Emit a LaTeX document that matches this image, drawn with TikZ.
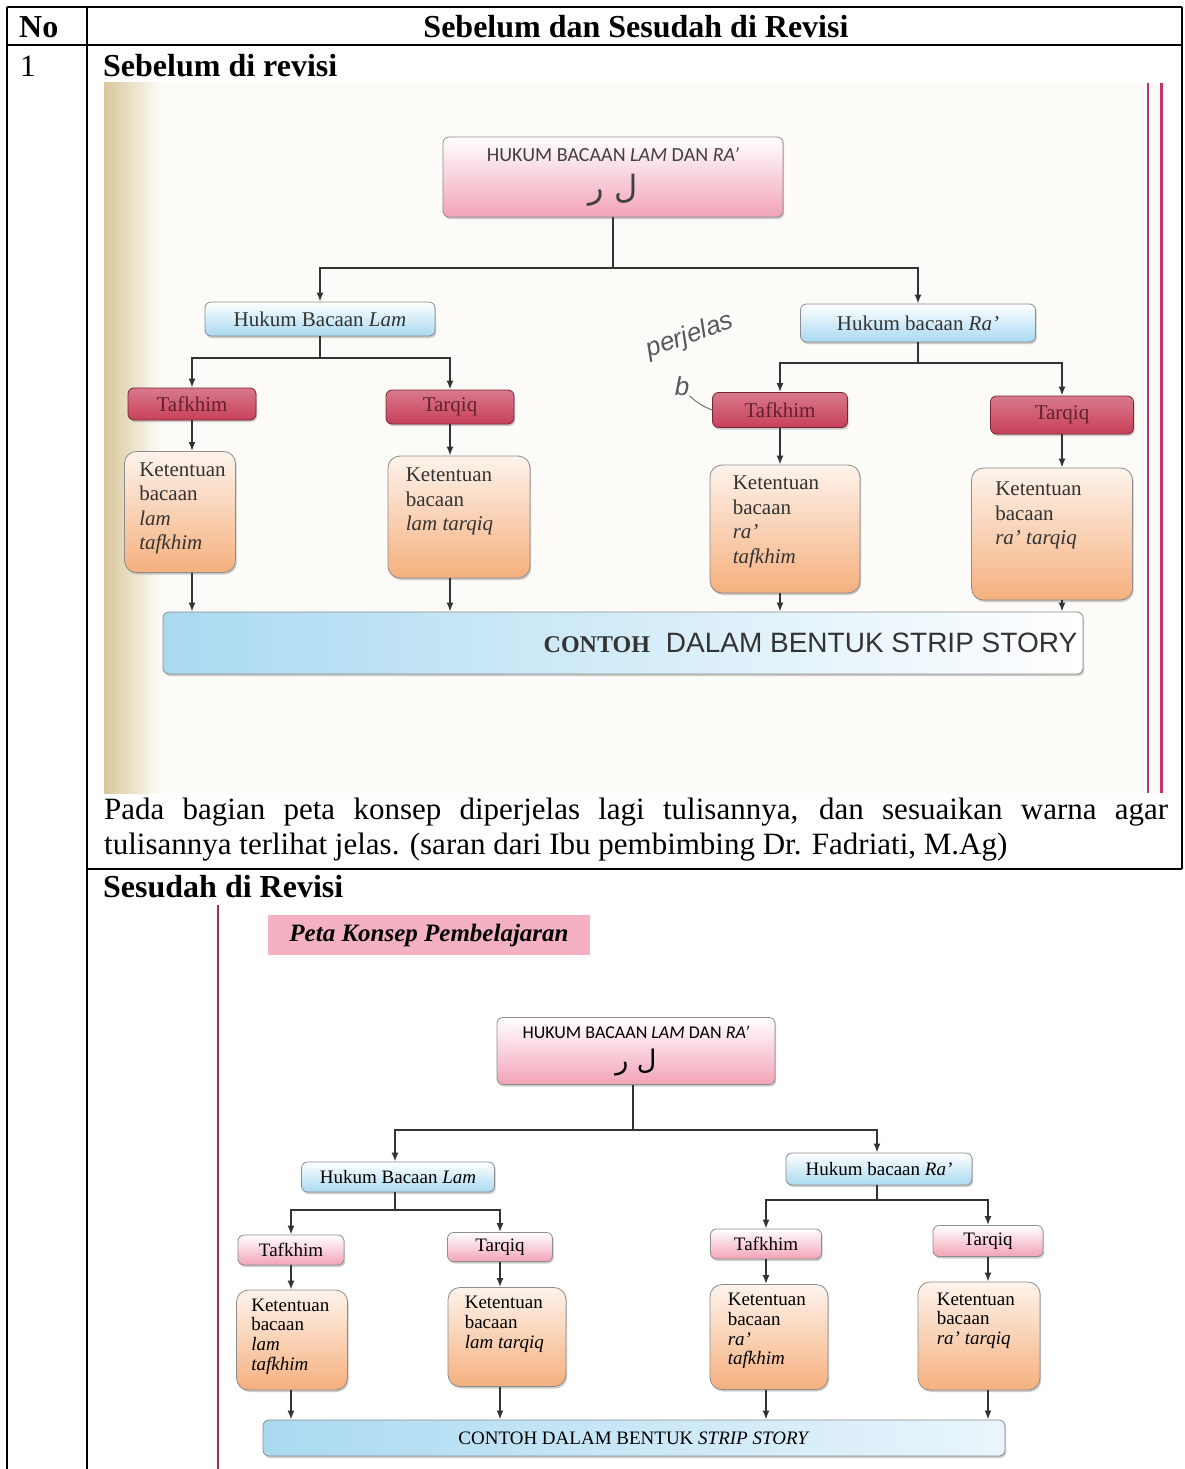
\documentclass[tikz,border=0pt]{standalone}
\usepackage{fontspec}
\setmainfont{Liberation Serif}
\newfontfamily\arabicfont[Script=Arabic]{DejaVu Sans}
\newfontfamily\calfont{Carlito}
\newfontfamily\handfont{Liberation Sans}
\TeXXeTstate=1
\usetikzlibrary{positioning,shadows,arrows.meta}
\definecolor{merahmuda}{HTML}{F2A3B7}
\definecolor{merahtua}{HTML}{C8405A}
\definecolor{birumuda}{HTML}{A9D9F1}
\definecolor{jingga}{HTML}{F5B07E}
\definecolor{krem}{HTML}{FCFBF7}
\definecolor{kuning}{HTML}{D9C79A}
\definecolor{magenta1}{HTML}{C2336D}
\newcommand\ukuran[2]{\fontsize{#1}{#2}\selectfont}

\begin{document}
\begin{tikzpicture}[x=1pt,y=-1pt,>={Latex[length=9pt,width=7pt]},
	tabel/.style={line width=2.2pt},
	garis/.style={line width=1.6pt,color=black!80},
	judul/.style={inner sep=0pt,font=\ukuran{32}{36}\bfseries},
	biasa/.style={inner sep=0pt,font=\ukuran{31}{35}},
	kotak/.style={draw=black!45,line width=0.8pt,rounded corners=6pt,inner sep=0pt,
		drop shadow={shadow xshift=1.2pt,shadow yshift=-2pt,opacity=0.4}},
	pinkbox/.style={kotak,top color=white,bottom color=merahmuda},
	bluebox/.style={kotak,top color=white,bottom color=birumuda},
	redbox/.style={kotak,draw=merahtua!60!black,top color=merahtua!70,bottom color=merahtua},
	ketbox/.style={kotak,rounded corners=12pt,top color=jingga!15,bottom color=jingga},
	stripbox/.style={kotak,left color=birumuda,right color=white},
	teks1/.style={inner sep=0pt,text=black!80,font=\ukuran{21}{24.5}},
	teks2/.style={inner sep=0pt,font=\ukuran{19}{19.7}},
	tulisan/.style={inner sep=0pt,text=black!65,font=\handfont\itshape\ukuran{26}{28}}]
\useasboundingbox (0,0) rectangle (1184,1469);

% tabel
\draw[tabel] (7,7) -- (1182,7);
\draw[tabel] (7,45) -- (1182,45);
\draw[tabel] (87,869) -- (1182,869);
\draw[tabel] (7,7) -- (7,1469);
\draw[tabel] (87,7) -- (87,1469);
\draw[tabel] (1182,7) -- (1182,869);

\node[judul,anchor=west] (no) at (19,27) {No};
\node[judul] (kepala) at (636,27) {Sebelum dan Sesudah di Revisi};
\node[biasa,anchor=west] (nomor) at (20,66) {1};
\node[judul,anchor=west] (sebelum) at (103,66) {Sebelum di revisi};
\node[biasa,anchor=north west,text width=1064pt,align=justify] (catatan) at (104,798)
	{\hyphenpenalty=10000 Pada bagian peta konsep diperjelas lagi tulisannya, dan sesuaikan warna agar\linebreak tulisannya terlihat jelas. (saran dari Ibu pembimbing Dr. Fadriati, M.Ag)};
\node[judul,anchor=west] (sesudah) at (103,887) {Sesudah di Revisi};

% foto sebelum
\fill[krem] (104,83) rectangle (1168,793);
\shade[left color=kuning,right color=krem] (104,83) rectangle (160,793);
\draw[magenta1,line width=2.5pt] (1148,83) -- (1148,793);
\draw[magenta1,line width=3pt] (1161,83) -- (1161,793);

\node[pinkbox,minimum width=340pt,minimum height=80pt,align=center,text=black!75] (top1) at (613,177)
	{\calfont\ukuran{20}{22}HUKUM BACAAN \textit{LAM} DAN \textit{RA’}\\[12pt]{\arabicfont\ukuran{32}{32}\beginR ل ر\endR}};
\node[bluebox,minimum width=230pt,minimum height=34pt,teks1] (lam1) at (320,319) {Hukum Bacaan \textit{Lam}};
\node[bluebox,minimum width=235pt,minimum height=38pt,teks1] (ra1) at (918,323) {Hukum bacaan \textit{Ra’}};
\node[redbox,minimum width=128pt,minimum height=32pt,teks1,text=merahtua!50!black] (taf1a) at (192,404) {Tafkhim};
\node[redbox,minimum width=128pt,minimum height=34pt,teks1,text=merahtua!50!black] (tar1a) at (450,407) {Tarqiq};
\node[redbox,minimum width=135pt,minimum height=35pt,teks1,text=merahtua!50!black] (taf1b) at (780,410) {Tafkhim};
\node[redbox,minimum width=143pt,minimum height=38pt,teks1,text=merahtua!50!black] (tar1b) at (1062,415) {Tarqiq};
\node[ketbox,minimum width=111pt,minimum height=121pt] (ket1a) at (180,512) {};
\node[ketbox,minimum width=142pt,minimum height=122pt] (ket1b) at (459,517) {};
\node[ketbox,minimum width=150pt,minimum height=128pt] (ket1c) at (785,529) {};
\node[ketbox,minimum width=161pt,minimum height=132pt] (ket1d) at (1052,534) {};
\node[teks1,anchor=north west,align=left] (ket1a-t) at ([shift={(15,11)}]ket1a.north west) {Ketentuan\\bacaan\\\textit{lam}\\\textit{tafkhim}};
\node[teks1,anchor=north west,align=left] (ket1b-t) at ([shift={(18,12)}]ket1b.north west) {Ketentuan\\bacaan\\\textit{lam tarqiq}};
\node[teks1,anchor=north west,align=left] (ket1c-t) at ([shift={(23,11)}]ket1c.north west) {Ketentuan\\bacaan\\\textit{ra’}\\\textit{tafkhim}};
\node[teks1,anchor=north west,align=left] (ket1d-t) at ([shift={(24,14)}]ket1d.north west) {Ketentuan\\bacaan\\\textit{ra’ tarqiq}};
\node[stripbox,minimum width=920pt,minimum height=62pt] (strip1) at (623,643) {};
\node[inner sep=0pt,anchor=east,text=black!80] (contoh1) at ([xshift=-6pt]strip1.east)
	{\ukuran{24}{26}\bfseries CONTOH\hspace{16pt}\handfont\mdseries\ukuran{28}{30}DALAM BENTUK STRIP STORY};

\coordinate (j1) at (613,268);
\coordinate (j2) at (320,358);
\coordinate (j3) at (918,363);
\draw[garis] (top1.south) -- (j1);
\draw[garis,->] (j1) -| (lam1.north);
\draw[garis,->] (j1) -| (ra1.north);
\draw[garis] (lam1.south) -- (j2);
\draw[garis,->] (j2) -| (taf1a.north);
\draw[garis,->] (j2) -| (tar1a.north);
\draw[garis] (ra1.south) -- (j3);
\draw[garis,->] (j3) -| (taf1b.north);
\draw[garis,->] (j3) -| (tar1b.north);
\draw[garis,->] (taf1a.south) -- (taf1a.south |- ket1a.north);
\draw[garis,->] (tar1a.south) -- (tar1a.south |- ket1b.north);
\draw[garis,->] (taf1b.south) -- (taf1b.south |- ket1c.north);
\draw[garis,->] (tar1b.south) -- (tar1b.south |- ket1d.north);
\draw[garis,->] (taf1a |- ket1a.south) -- (taf1a |- strip1.north);
\draw[garis,->] (tar1a |- ket1b.south) -- (tar1a |- strip1.north);
\draw[garis,->] (taf1b |- ket1c.south) -- (taf1b |- strip1.north);
\draw[garis,->] (tar1b |- ket1d.south) -- (tar1b |- strip1.north);

% coretan tangan
\node[tulisan,rotate=20] (coret) at (690,336) {perjelas};
\node[tulisan] (coretb) at (682,386) {b};
\draw[black!60,line width=0.9pt] (coretb.south east) to[bend right=10] (taf1b.west);

% foto sesudah
\draw[merahtua!80!black,line width=2pt] (218,905) -- (218,1469);
\node[fill=merahmuda!85,minimum width=322pt,minimum height=40pt,inner sep=0pt,
	font=\ukuran{25}{27}\bfseries\itshape] (peta) at (429,935) {Peta Konsep Pembelajaran};

\node[pinkbox,minimum width=278pt,minimum height=67pt,align=center] (top2) at (636,1051)
	{\calfont\ukuran{18}{20}HUKUM BACAAN \textit{LAM} DAN \textit{RA’}\\[9pt]{\arabicfont\ukuran{27}{27}\beginR ل ر\endR}};
\node[bluebox,minimum width=193pt,minimum height=30pt,teks2] (lam2) at (398,1177) {Hukum Bacaan \textit{Lam}};
\node[bluebox,minimum width=186pt,minimum height=32pt,teks2] (ra2) at (879,1169) {Hukum bacaan \textit{Ra’}};
\node[pinkbox,minimum width=106pt,minimum height=30pt,teks2] (taf2a) at (291,1250) {Tafkhim};
\node[pinkbox,minimum width=105pt,minimum height=29pt,teks2] (tar2a) at (500,1247) {Tarqiq};
\node[pinkbox,minimum width=111pt,minimum height=30pt,teks2] (taf2b) at (766,1244) {Tafkhim};
\node[pinkbox,minimum width=110pt,minimum height=31pt,teks2] (tar2b) at (988,1241) {Tarqiq};
\node[ketbox,minimum width=111pt,minimum height=100pt] (ket2a) at (292,1340) {};
\node[ketbox,minimum width=118pt,minimum height=99pt] (ket2b) at (507,1337) {};
\node[ketbox,minimum width=118pt,minimum height=105pt] (ket2c) at (769,1337) {};
\node[ketbox,minimum width=122pt,minimum height=108pt] (ket2d) at (979,1336) {};
\node[teks2,anchor=north west,align=left] (ket2a-t) at ([shift={(15,9)}]ket2a.north west) {Ketentuan\\bacaan\\\textit{lam}\\\textit{tafkhim}};
\node[teks2,anchor=north west,align=left] (ket2b-t) at ([shift={(17,9)}]ket2b.north west) {Ketentuan\\bacaan\\\textit{lam tarqiq}};
\node[teks2,anchor=north west,align=left] (ket2c-t) at ([shift={(18,9)}]ket2c.north west) {Ketentuan\\bacaan\\\textit{ra’}\\\textit{tafkhim}};
\node[teks2,anchor=north west,align=left] (ket2d-t) at ([shift={(19,11)}]ket2d.north west) {Ketentuan\\bacaan\\\textit{ra’ tarqiq}};
\node[stripbox,right color=birumuda!25,minimum width=742pt,minimum height=36pt,teks2] (strip2) at (634,1438)
	{CONTOH DALAM BENTUK \textit{STRIP STORY}};

\coordinate (j4) at (633,1130);
\coordinate (j5) at (395,1210);
\coordinate (j6) at (877,1200);
\draw[garis] (top2.south -| j4) -- (j4);
\draw[garis,->] (j4) -| (lam2.north -| j5);
\draw[garis,->] (j4) -| (ra2.north -| j6);
\draw[garis] (lam2.south -| j5) -- (j5);
\draw[garis,->] (j5) -| (taf2a.north);
\draw[garis,->] (j5) -| (tar2a.north);
\draw[garis] (ra2.south -| j6) -- (j6);
\draw[garis,->] (j6) -| (taf2b.north);
\draw[garis,->] (j6) -| (tar2b.north);
\draw[garis,->] (taf2a.south) -- (taf2a.south |- ket2a.north);
\draw[garis,->] (tar2a.south) -- (tar2a.south |- ket2b.north);
\draw[garis,->] (taf2b.south) -- (taf2b.south |- ket2c.north);
\draw[garis,->] (tar2b.south) -- (tar2b.south |- ket2d.north);
\draw[garis,->] (taf2a |- ket2a.south) -- (taf2a |- strip2.north);
\draw[garis,->] (tar2a |- ket2b.south) -- (tar2a |- strip2.north);
\draw[garis,->] (taf2b |- ket2c.south) -- (taf2b |- strip2.north);
\draw[garis,->] (tar2b |- ket2d.south) -- (tar2b |- strip2.north);
\end{tikzpicture}
\end{document}
